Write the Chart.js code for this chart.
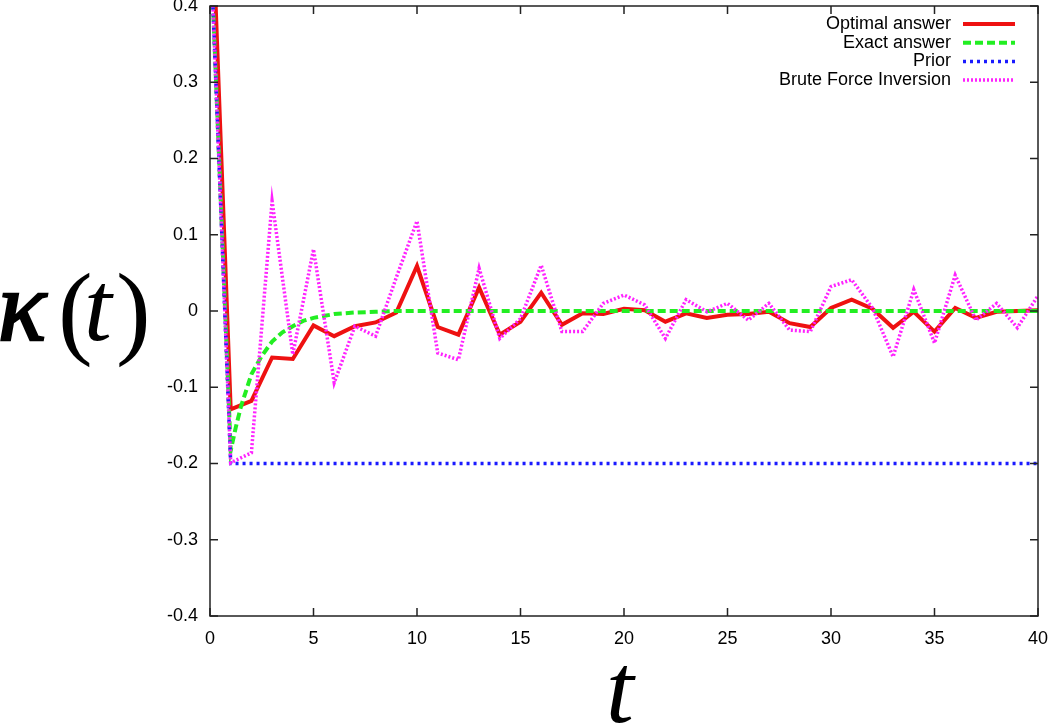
<!DOCTYPE html>
<html>
<head>
<meta charset="utf-8">
<title>kappa(t)</title>
<script src="https://cdn.jsdelivr.net/npm/chart.js@4.4.1/dist/chart.umd.min.js"></script>
<style>
    html, body { margin: 0; padding: 0; background: #fff; }
    canvas { display: block; }
</style>
</head>
<body>
<canvas id="kappaChart" width="1050" height="727"></canvas>
<script>
// ======================================
// DATA
// ======================================
const tValues = [0, 1, 2, 3, 4, 5, 6, 7, 8, 9, 10,
    11, 12, 13, 14, 15, 16, 17, 18, 19, 20,
    21, 22, 23, 24, 25, 26, 27, 28, 29, 30,
    31, 32, 33, 34, 35, 36, 37, 38, 39, 40];

const optimal = [0.6, -0.129, -0.118, -0.061, -0.063, -0.019, -0.033, -0.020, -0.015, -0.002, 0.059,
    -0.021, -0.031, 0.031, -0.031, -0.014, 0.024, -0.018, -0.003, -0.004, 0.003,
    0.001, -0.014, -0.003, -0.009, -0.005, -0.004, -0.001, -0.016, -0.021, 0.004,
    0.015, 0.003, -0.022, -0.001, -0.027, 0.004, -0.009, -0.001, 0.000, 0.001];

const prior = [0.5, -0.2, -0.2, -0.2, -0.2, -0.2, -0.2, -0.2, -0.2, -0.2, -0.2,
    -0.2, -0.2, -0.2, -0.2, -0.2, -0.2, -0.2, -0.2, -0.2, -0.2,
    -0.2, -0.2, -0.2, -0.2, -0.2, -0.2, -0.2, -0.2, -0.2, -0.2,
    -0.2, -0.2, -0.2, -0.2, -0.2, -0.2, -0.2, -0.2, -0.2, -0.2];

const bruteForce = [0.5, -0.199, -0.186, 0.144, -0.057, 0.081, -0.094, -0.020, -0.033, 0.044, 0.118,
    -0.055, -0.064, 0.056, -0.036, -0.010, 0.060, -0.027, -0.027, 0.010, 0.021,
    0.008, -0.036, 0.015, -0.001, 0.010, -0.012, 0.010, -0.025, -0.027, 0.032,
    0.041, 0.004, -0.060, 0.028, -0.042, 0.047, -0.012, 0.010, -0.022, 0.020];

// exact answer is a smooth curve, read at finer steps
const tExact = [0, 1, 1.25, 1.5, 2, 2.5, 3, 3.5, 4, 4.5, 5, 6, 7, 8, 9, 40];
const exact = [0.5, -0.183, -0.152, -0.125, -0.083, -0.059, -0.040, -0.028, -0.020, -0.013, -0.009, -0.004, -0.002, -0.001, 0, 0];

const xTicks = [0, 5, 10, 15, 20, 25, 30, 35, 40];
const yTicks = [-0.4, -0.3, -0.2, -0.1, 0, 0.1, 0.2, 0.3, 0.4];
const yTickLabels = ["-0.4", "-0.3", "-0.2", "-0.1", "0", "0.1", "0.2", "0.3", "0.4"];

const seriesNames = ["Optimal answer", "Exact answer", "Prior", "Brute Force Inversion"];

const pts = (xs, ys) => xs.map((x, i) => ({ x: x, y: ys[i] }));

// ======================================
// DECORATION PLUGIN (box, inward ticks, titles, legend)
// ======================================
const TICK = 8;
const decor = {
    id: "decor",
    afterDraw(chart) {
        const c = chart.ctx;
        const a = chart.chartArea;
        const xs = chart.scales.x, ys = chart.scales.y;
        c.save();
        c.strokeStyle = "#222";
        c.lineWidth = 1.5;
        c.setLineDash([]);
        c.strokeRect(a.left, a.top, a.right - a.left, a.bottom - a.top);

        c.beginPath();
        xTicks.forEach(v => {
            const px = xs.getPixelForValue(v);
            c.moveTo(px, a.bottom); c.lineTo(px, a.bottom - TICK);
            c.moveTo(px, a.top); c.lineTo(px, a.top + TICK);
        });
        yTicks.forEach(v => {
            const py = ys.getPixelForValue(v);
            c.moveTo(a.left, py); c.lineTo(a.left + TICK, py);
            c.moveTo(a.right, py); c.lineTo(a.right - TICK, py);
        });
        c.stroke();

        // axis titles, math style: italic letters, upright parens
        c.fillStyle = "#000";
        c.strokeStyle = "#000";
        c.lineWidth = 2.5;
        c.textAlign = "left";
        c.textBaseline = "alphabetic";
        c.font = "italic 100px 'Liberation Serif'";
        c.fillText("\u03BA", -2, 340);
        c.strokeText("\u03BA", -2, 340);
        c.font = "104px 'Liberation Serif'";
        c.fillText("(", 58, 345);
        c.fillText(")", 116, 345);
        c.font = "italic 100px 'Liberation Serif'";
        c.fillText("t", 84, 340);
        c.textAlign = "center";
        c.fillText("t", 620, 722);

        // legend
        c.font = "18px 'Liberation Sans'";
        c.textAlign = "right";
        c.textBaseline = "middle";
        chart.data.datasets.forEach((ds, i) => {
            const y = 24 + i * 18.7;
            c.fillStyle = "#000";
            c.fillText(ds.label, 951, y);
            c.strokeStyle = ds.borderColor;
            c.lineWidth = ds.borderWidth;
            c.setLineDash(ds.borderDash || []);
            c.beginPath();
            c.moveTo(963, y);
            c.lineTo(1015, y);
            c.stroke();
        });
        c.restore();
    }
};

// ======================================
// CHART INIT
// ======================================
const ctx = document.getElementById("kappaChart");
const chart = new Chart(ctx, {
    type: "line",
    data: {
        datasets: [
            {
                label: seriesNames[0],
                data: pts(tValues, optimal),
                borderColor: "#ee1111",
                borderWidth: 4,
                order: 4
            },
            {
                label: seriesNames[1],
                data: pts(tExact, exact),
                borderColor: "#22ee22",
                borderWidth: 4,
                borderDash: [8, 4],
                order: 3
            },
            {
                label: seriesNames[2],
                data: pts(tValues, prior),
                borderColor: "#1a1aff",
                borderWidth: 3.5,
                borderDash: [3, 4],
                order: 2
            },
            {
                label: seriesNames[3],
                data: pts(tValues, bruteForce),
                borderColor: "#ff22ff",
                borderWidth: 3.5,
                borderDash: [2, 2],
                order: 1
            }
        ]
    },
    options: {
        responsive: false,
        animation: false,
        parsing: false,
        layout: { padding: { top: 6, right: 12, left: 0, bottom: 0 } },
        elements: {
            point: { radius: 0 },
            line: { tension: 0, borderJoinStyle: "miter", fill: false }
        },
        datasets: { line: { clip: 0 } },
        plugins: {
            legend: { display: false },
            tooltip: { enabled: false }
        },
        scales: {
            x: {
                type: "linear",
                min: 0,
                max: 40,
                grid: { display: false, drawTicks: false },
                border: { display: false },
                ticks: {
                    color: "#000",
                    font: { family: "'Liberation Sans'", size: 18 },
                    padding: 12,
                    maxRotation: 0,
                    autoSkip: false
                },
                afterBuildTicks: s => { s.ticks = xTicks.map(v => ({ value: v })); },
                afterFit: s => {
                    s.height = 111;
                    s.paddingLeft = 0; s.paddingRight = 0;
                }
            },
            y: {
                type: "linear",
                min: -0.4,
                max: 0.4,
                grid: { display: false, drawTicks: false },
                border: { display: false },
                ticks: {
                    color: "#000",
                    font: { family: "'Liberation Sans'", size: 18 },
                    padding: 12,
                    autoSkip: false,
                    callback: v => {
                        const i = yTicks.findIndex(t => Math.abs(t - v) < 1e-9);
                        return i >= 0 ? yTickLabels[i] : "";
                    }
                },
                afterBuildTicks: s => { s.ticks = yTicks.map(v => ({ value: v })); },
                afterFit: s => {
                    s.width = 210;
                    s.paddingTop = 0; s.paddingBottom = 0;
                }
            }
        }
    },
    plugins: [decor]
});
</script>
</body>
</html>
